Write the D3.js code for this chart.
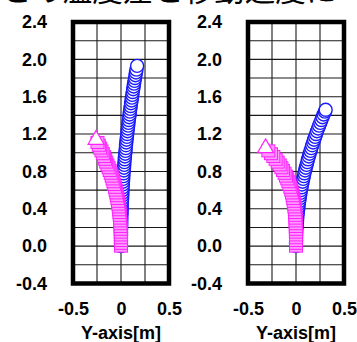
<!DOCTYPE html>
<html><head><meta charset="utf-8">
<script src="https://cdn.jsdelivr.net/npm/d3@7"></script>
<style>body{margin:0;background:#fff;}svg{display:block;}</style>
</head><body>
<svg id="c" width="357" height="342"></svg>
<script>
const titleText = "との温度差と移動速度に";
const yTicks = [-0.4, 0.0, 0.4, 0.8, 1.2, 1.6, 2.0, 2.4];
const xTicks = [-0.5, 0, 0.5];
const xTickLabels = ["-0.5", "0", "0.5"];
const xTitle = "Y-axis[m]";

// left panel, circles (blue)
const leftCircleY = [0,0.03,0.06,0.09,0.12,0.15,0.18,0.21,0.24,0.27,0.30,0.33,0.36,0.39,0.42,0.45,0.48,0.51,0.54,0.57,0.60,0.63,0.66,0.69,0.72,0.75,0.78,0.81,0.84,0.87,0.90,0.93,0.96,0.99,1.02,1.05,1.08,1.11,1.14,1.17,1.20,1.23,1.26,1.29,1.32,1.35,1.38,1.41,1.44,1.47,1.50,1.53,1.56,1.59,1.62,1.65,1.68,1.71,1.74,1.77,1.80,1.83,1.86,1.89,1.93];
const leftCircleX = [0,0,0,0,0.001,0.001,0.001,0.002,0.003,0.003,0.004,0.005,0.006,0.007,0.008,0.009,0.010,0.012,0.013,0.015,0.016,0.018,0.020,0.021,0.023,0.025,0.027,0.030,0.032,0.034,0.036,0.039,0.041,0.044,0.047,0.050,0.052,0.055,0.058,0.062,0.065,0.068,0.071,0.075,0.078,0.082,0.086,0.090,0.093,0.097,0.101,0.105,0.110,0.114,0.118,0.122,0.127,0.132,0.136,0.141,0.146,0.151,0.156,0.161,0.168];
// left panel, squares (magenta)
const leftSquareY = [0,0.03,0.06,0.09,0.12,0.15,0.18,0.21,0.24,0.27,0.30,0.33,0.36,0.39,0.42,0.45,0.48,0.51,0.54,0.57,0.60,0.63,0.66,0.69,0.72,0.75,0.78,0.81,0.84,0.87,0.90,0.93,0.96,0.99,1.02,1.05,1.08,1.11,1.14];
const leftSquareX = [0,0,0,-0.001,-0.001,-0.002,-0.003,-0.004,-0.006,-0.008,-0.010,-0.013,-0.016,-0.019,-0.023,-0.027,-0.032,-0.037,-0.043,-0.049,-0.056,-0.063,-0.071,-0.079,-0.088,-0.097,-0.107,-0.118,-0.129,-0.141,-0.154,-0.165,-0.176,-0.189,-0.203,-0.217,-0.231,-0.245,-0.26];
// right panel, circles (blue)
const rightCircleY = [0,0.03,0.06,0.09,0.12,0.15,0.18,0.21,0.24,0.27,0.30,0.33,0.36,0.39,0.42,0.45,0.48,0.51,0.54,0.57,0.60,0.63,0.66,0.69,0.72,0.75,0.78,0.81,0.84,0.87,0.90,0.93,0.96,0.99,1.02,1.05,1.08,1.11,1.14,1.17,1.20,1.23,1.26,1.29,1.32,1.35,1.38,1.41,1.44,1.46];
const rightCircleX = [0,0,0.001,0.001,0.002,0.003,0.005,0.006,0.008,0.011,0.013,0.016,0.019,0.022,0.026,0.029,0.033,0.038,0.042,0.047,0.052,0.058,0.063,0.069,0.075,0.082,0.088,0.095,0.102,0.110,0.118,0.125,0.134,0.142,0.151,0.160,0.169,0.179,0.188,0.199,0.209,0.219,0.230,0.241,0.253,0.264,0.276,0.288,0.301,0.309];
// right panel, squares (magenta)
const rightSquareY = [0,0.03,0.06,0.09,0.12,0.15,0.18,0.21,0.24,0.27,0.30,0.33,0.36,0.39,0.42,0.45,0.48,0.51,0.54,0.57,0.60,0.63,0.66,0.69,0.72,0.75,0.78,0.81,0.84,0.87,0.90,0.93,0.96,0.99,1.02,1.05];
const rightSquareX = [0,0,0,0,0,-0.001,-0.001,-0.002,-0.002,-0.004,-0.005,-0.007,-0.009,-0.012,-0.016,-0.019,-0.024,-0.029,-0.035,-0.042,-0.050,-0.059,-0.068,-0.079,-0.091,-0.105,-0.119,-0.135,-0.152,-0.170,-0.191,-0.212,-0.236,-0.261,-0.288,-0.317];

const svg = d3.select("#c");
const font = "'Liberation Sans', Arial, sans-serif";

svg.append("text")
  .attr("x", 1).attr("y", 0.5)
  .attr("font-family", "'Noto Sans CJK JP', sans-serif")
  .attr("font-size", 30.5)
  .attr("fill", "#000")
  .text(titleText);

const y = d3.scaleLinear().domain([-0.4, 2.4]).range([283.5, 22]);

function panel(x0, x1, cx, cy, sx, sy) {
  const x = d3.scaleLinear().domain([-0.5, 0.5]).range([x0, x1]);
  const g = svg.append("g");
  // grid
  const hVals = d3.range(-4, 25, 2).map(v => v / 10);
  g.selectAll("line.h").data(hVals).enter().append("line")
    .attr("x1", x0).attr("x2", x1)
    .attr("y1", d => y(d)).attr("y2", d => y(d))
    .attr("stroke", "#1a1a1a").attr("stroke-width", 1.1);
  g.selectAll("line.v").data([-0.25, 0, 0.25]).enter().append("line")
    .attr("x1", d => x(d)).attr("x2", d => x(d))
    .attr("y1", y(2.4)).attr("y2", y(-0.4))
    .attr("stroke", "#1a1a1a").attr("stroke-width", 1.1);
  // circles
  const circ = cx.map((v, i) => [v, cy[i]]);
  g.selectAll("circle.m").data(circ).enter().append("circle")
    .attr("cx", d => x(d[0])).attr("cy", d => y(d[1])).attr("r", 6.5)
    .attr("fill", "#fff").attr("stroke", "#1a1aff").attr("stroke-width", 1.4);
  // squares
  const sq = sx.map((v, i) => [v, sy[i]]);
  const last = sq.length - 1;
  g.selectAll("rect.m").data(sq.slice(0, last)).enter().append("rect")
    .attr("x", d => x(d[0]) - 6.5).attr("y", d => y(d[1]) - 6).attr("width", 13).attr("height", 12)
    .attr("fill", "#ff99ff").attr("stroke", "#ff22ff").attr("stroke-width", 1);
  g.append("path")
    .attr("d", d3.symbol(d3.symbolTriangle, 110)())
    .attr("transform", `translate(${x(sq[last][0])},${y(sq[last][1])})`)
    .attr("fill", "#fff").attr("stroke", "#ff22ff").attr("stroke-width", 1.2);
  // frame
  g.append("rect").attr("x", x0).attr("y", y(2.4)).attr("width", x1 - x0).attr("height", y(-0.4) - y(2.4))
    .attr("fill", "none").attr("stroke", "#000").attr("stroke-width", 4.5);
  // axes
  const ya = g.append("g").attr("transform", `translate(${x0},0)`)
    .call(d3.axisLeft(y).tickValues(yTicks).tickSize(0).tickPadding(26).tickFormat(d => d.toFixed(1)));
  ya.select(".domain").remove();
  ya.selectAll("text").attr("font-family", font).attr("font-size", 18).attr("font-weight", "bold").attr("fill", "#000");
  const xa = g.append("g").attr("transform", `translate(0,${y(-0.4)})`)
    .call(d3.axisBottom(x).tickValues(xTicks).tickSize(0).tickPadding(19).tickFormat((d, i) => xTickLabels[i]));
  xa.select(".domain").remove();
  xa.selectAll("text").attr("font-family", font).attr("font-size", 18).attr("font-weight", "bold").attr("fill", "#000");
  g.append("text").attr("x", (x0 + x1) / 2).attr("y", 339).attr("text-anchor", "middle")
    .attr("font-family", font).attr("font-size", 18).attr("font-weight", "bold").text(xTitle);
}

panel(73, 169, leftCircleX, leftCircleY, leftSquareX, leftSquareY);
panel(248, 344, rightCircleX, rightCircleY, rightSquareX, rightSquareY);
</script>
</body></html>
